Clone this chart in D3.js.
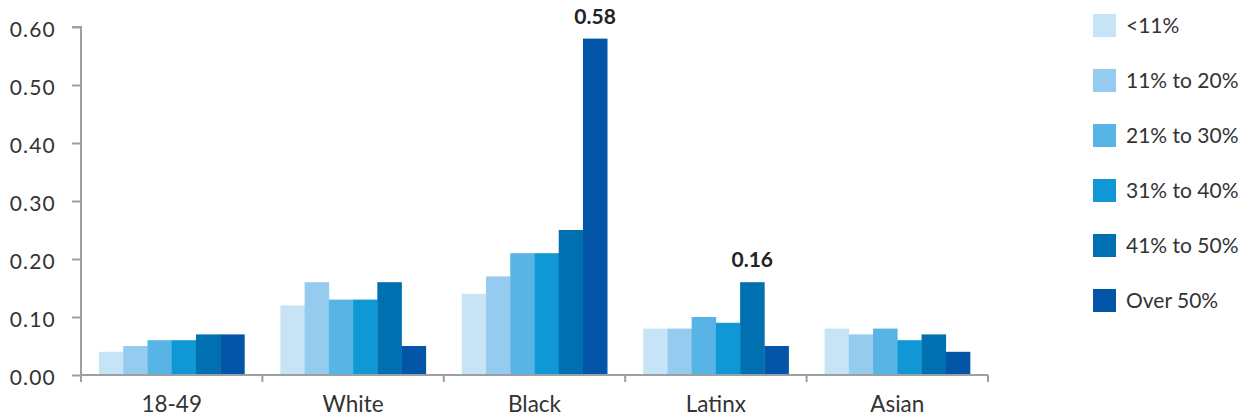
<!DOCTYPE html>
<html><head><meta charset="utf-8">
<script src="https://cdn.jsdelivr.net/npm/d3@7"></script>
<style>body{margin:0;background:#fff}svg{display:block}text{font-family:Lato,"Open Sans",sans-serif}</style>
</head><body>
<svg id="c" width="1248" height="418"></svg>
<script>
const categories = ["18-49","White","Black","Latinx","Asian"];
const seriesNames = ["<11%","11% to 20%","21% to 30%","31% to 40%","41% to 50%","Over 50%"];
const s1 = [0.04,0.12,0.14,0.08,0.08];
const s2 = [0.05,0.16,0.17,0.08,0.07];
const s3 = [0.06,0.13,0.21,0.10,0.08];
const s4 = [0.06,0.13,0.21,0.09,0.06];
const s5 = [0.07,0.16,0.25,0.16,0.07];
const s6 = [0.07,0.05,0.58,0.05,0.04];
const yTicks = [0,0.1,0.2,0.3,0.4,0.5,0.6];
const annotations = [{cat:"Black",series:5,text:"0.58"},{cat:"Latinx",series:4,text:"0.16"}];
const colors = ["#c6e4f6","#94cbee","#57b4e5","#1097d5","#0170b0","#0255a7"];

const series = [s1,s2,s3,s4,s5,s6];
const svg = d3.select("#c");
const mLeft=81, mRight=988, mTop=27, mBottom=375;
const x0 = d3.scaleBand().domain(categories).range([mLeft,mRight]).padding(0);
const pad = 18;
const x1 = d3.scaleBand().domain(d3.range(6)).range([pad, x0.bandwidth()-pad]).padding(0);
const y = d3.scaleLinear().domain([0,0.6]).range([mBottom,mTop]);
const axisColor = "#9aa0a6";
const textColor = "#333";

// bars
categories.forEach((c,ci)=>{
  series.forEach((s,si)=>{
    svg.append("rect").attr("x",x0(c)+x1(si)).attr("y",y(s[ci]))
      .attr("width",x1.bandwidth()+0.3).attr("height",y(0)-y(s[ci])).attr("fill",colors[si]);
  });
});

// y axis
const ya = svg.append("g").attr("transform",`translate(${mLeft},0)`)
  .call(d3.axisLeft(y).tickValues(yTicks).tickFormat(d3.format(".2f")).tickSize(9).tickPadding(16));
ya.select(".domain").attr("stroke",axisColor).attr("stroke-width",2).attr("d",`M-9,${mTop}H0V${mBottom}`);
ya.selectAll(".tick line").attr("stroke",axisColor).attr("stroke-width",2);
ya.selectAll(".tick text").attr("fill",textColor).attr("dy","0.47em")
  .style("font-size","21px").style("letter-spacing","1.2px");

// x axis
const xa = svg.append("g").attr("transform",`translate(0,${mBottom})`);
xa.append("line").attr("x1",mLeft).attr("x2",mRight).attr("stroke",axisColor).attr("stroke-width",2);
const bounds = categories.map(c=>x0(c)).concat([mRight]);
xa.selectAll("line.t").data(bounds).enter().append("line").attr("class","t")
  .attr("x1",d=>d).attr("x2",d=>d).attr("y1",0).attr("y2",7).attr("stroke",axisColor).attr("stroke-width",2);
xa.selectAll("text").data(categories).enter().append("text")
  .attr("x",d=>x0(d)+x0.bandwidth()/2).attr("y",37).attr("text-anchor","middle")
  .attr("fill",textColor).style("font-size","22.5px").text(d=>d);

// annotations
annotations.forEach(a=>{
  const ci = categories.indexOf(a.cat);
  svg.append("text").attr("x",x0(a.cat)+x1(a.series)+x1.bandwidth()/2)
    .attr("y",y(series[a.series][ci])-15).attr("text-anchor","middle")
    .attr("fill","#222").style("font-size","21px").style("font-weight","bold").text(a.text);
});

// legend
const lg = svg.append("g").attr("transform","translate(1093,14)");
seriesNames.forEach((n,i)=>{
  lg.append("rect").attr("x",0).attr("y",i*55).attr("width",23).attr("height",23).attr("fill",colors[i]);
  lg.append("text").attr("x",33).attr("y",i*55+19).attr("fill",textColor).style("font-size","21px").text(n);
});
</script>
</body></html>
